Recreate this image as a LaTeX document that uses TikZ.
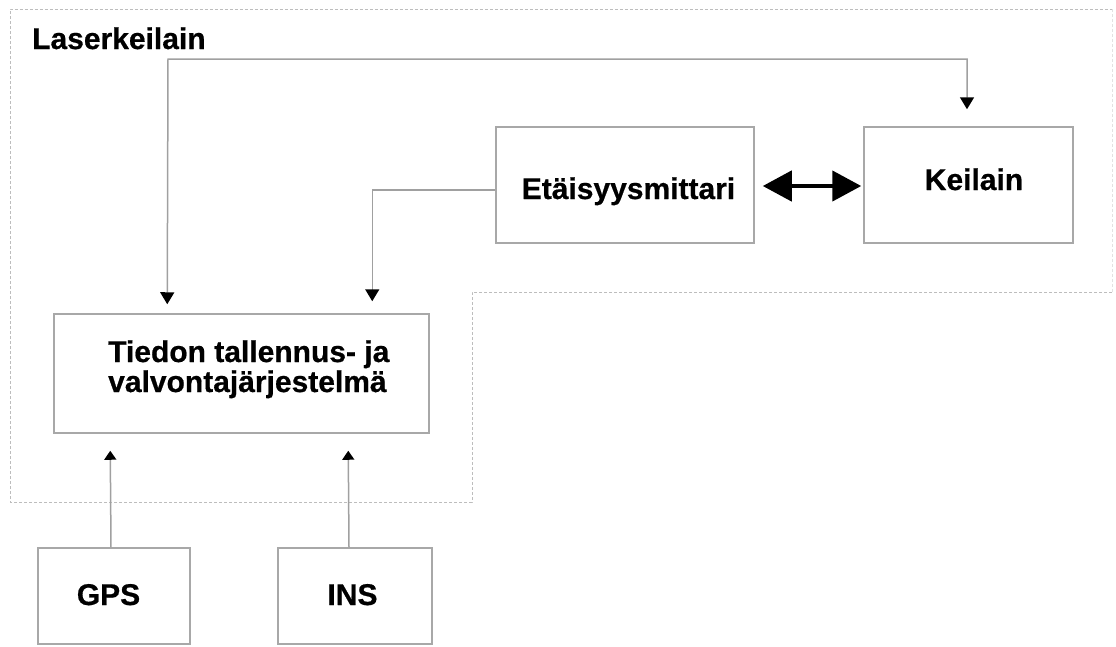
\documentclass[tikz,border=0pt]{standalone}
\usepackage{fontspec}
\setmainfont[BoldFeatures={FakeBold=0.6}]{Liberation Sans}
\usetikzlibrary{arrows.meta,calc}
\definecolor{boxgray}{HTML}{A8A8A8}
\definecolor{linegray}{HTML}{A0A0A0}
\definecolor{dashgray}{HTML}{BDBDBD}
\definecolor{faintgray}{HTML}{E2E2E2}
\begin{document}
\begin{tikzpicture}[x=1pt,y=-1pt,
  boxst/.style={draw=boxgray,line width=1.5pt,rectangle,inner sep=0pt},
  lbl/.style={font=\fontsize{30}{30}\selectfont\bfseries,inner sep=0pt,text=black},
  conn/.style={draw=linegray,line width=1.5pt},
  tipdown/.style={-{Triangle[color=black,length=12pt,width=14pt]}},
  tipboth/.style={{Triangle[color=black,length=12pt,width=14pt]}-{Triangle[color=black,length=12pt,width=14pt]}},
  tipup/.style={-{Triangle[color=black,length=9pt,width=12pt]}},
  bigarrow/.style={draw=black,line width=4.5pt,{Triangle[length=29pt,width=30pt]}-{Triangle[length=29pt,width=30pt]}},
  groupline/.style={draw=dashgray,line width=1pt,dash pattern=on 3pt off 2pt},
  faintline/.style={draw=faintgray,line width=1pt,dash pattern=on 3pt off 2pt}
]
\useasboundingbox (0,0) rectangle (1116,646);

% group outline
\draw[groupline] (1112,292) -- (472,292) -- (472,502) -- (10,502) -- (10,9) -- (1112,9);
\draw[faintline] (1112,9) -- (1112,292);
\node[lbl,anchor=base west] (grp) at (32,49) {Laserkeilain};

% boxes
\node[boxst,minimum width=258pt,minimum height=116pt] (ET) at (625,185) {};
\node[boxst,minimum width=209pt,minimum height=116pt] (KE) at (968.5,185) {};
\node[boxst,minimum width=375pt,minimum height=119pt] (TI) at (241.5,373.5) {};
\node[boxst,minimum width=152pt,minimum height=96pt] (GPS) at (114,596) {};
\node[boxst,minimum width=154pt,minimum height=96pt] (INS) at (355,596) {};

% labels
\node[lbl,anchor=base] (ETt) at (628.5,199) {Etäisyysmittari};
\node[lbl,anchor=base] (KEt) at (974,190) {Keilain};
\node[lbl,anchor=base west] (TIa) at (108,362) {Tiedon tallennus- ja};
\node[lbl,anchor=base west] (TIb) at (108,392) {valvontajärjestelmä};
\node[lbl,anchor=base] (GPSt) at (108.5,605) {GPS};
\node[lbl,anchor=base] (INSt) at (352.5,605) {INS};

% connectors
\coordinate (bendL) at (168,59);
\coordinate (bendR) at (967,59);
\draw[conn,tipboth] ($(TI.north west)+(114,-9)$) -- (bendL) -- (bendR) -- ($(KE.north)+(-1.5,-17)$);
\draw[conn,tipdown] ($(ET.west)+(0,5)$) -| ($(TI.north west)+(319,-12)$);
\draw[conn,tipup] ($(GPS.north)+(-3,0)$) -- ($(TI.south west)+(57,17)$);
\draw[conn,tipup] ($(INS.north)+(-6,0)$) -- ($(TI.south west)+(295,17)$);
\draw[bigarrow] ($(ET.east)+(8,1)$) -- ($(KE.west)+(-2,1)$);
\end{tikzpicture}
\end{document}
